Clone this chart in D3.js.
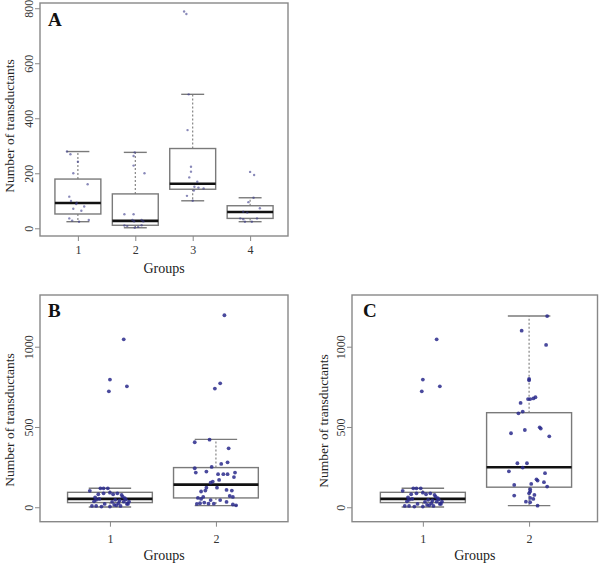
<!DOCTYPE html>
<html><head><meta charset="utf-8">
<script src="https://cdn.jsdelivr.net/npm/d3@7"></script>
<style>body{margin:0;background:#fff}svg{display:block}
text{font-family:"Liberation Serif","Times New Roman",Times,serif}</style>
</head><body>
<script>
// ---------- DATA ----------
const groupsA = [1, 2, 3, 4];
const groupsBC = [1, 2];
const ticksA = [0, 200, 400, 600, 800];
const ticksBC = [0, 500, 1000];

// Panel A box statistics (lower whisker, Q1, median, Q3, upper whisker)
const boxA_low = [24, 2, 100, 24];
const boxA_q1 = [52, 11, 142, 36];
const boxA_med = [92, 27, 162, 59];
const boxA_q3 = [179, 125, 290, 82];
const boxA_high = [279, 276, 487, 111];

// Panel A points: jittered group position and value
const ptsA_x = [0.81,0.87,1.00,0.92,1.17,0.85,0.88,0.98,0.97,1.11,0.92,1.06,0.85,0.90,1.19,1.02,
  1.99,1.97,1.97,2.16,1.81,1.97,1.81,1.86,1.99,2.05,2.11,1.95,2.11,2.14,1.98,
  2.85,2.89,2.93,2.91,2.97,2.97,2.94,3.08,3.03,3.10,3.19,3.02,2.90,3.00,
  4.00,4.07,4.06,3.97,4.17,3.88,3.95,3.83,3.88,4.12,3.91,4.03];
const ptsA_y = [279,269,242,200,160,115,99,93,88,79,71,64,36,28,30,24,
  276,263,228,200,51,51,10,8,2,5,11,30,30,25,25,
  788,779,487,357,224,206,185,169,151,148,145,137,118,100,
  205,194,111,95,73,60,57,36,33,36,24,24];

// Group 1 (shared by panels B and C)
const g1_x = [1.13,1.00,0.99,1.16,
  0.81,0.91,0.94,0.98,0.89,0.86,0.87,0.85,0.94,1.00,1.03,1.07,1.11,1.12,1.14,1.05,1.02,1.08,1.16,1.13,1.18,
  1.04,1.10,1.17,0.87,0.83,0.92,1.00,1.06,0.95,0.90,1.15,1.09];
const g1_y = [1046,795,722,753,
  102,118,118,118,81,62,46,37,87,91,81,87,77,66,56,46,33,25,21,35,35,
  15,8,21,8,8,4,4,12,21,52,48,42];

// Panel B box statistics
const boxB_low = [2, 10];
const boxB_q1 = [29, 58];
const boxB_med = [52, 141];
const boxB_q3 = [93, 247];
const boxB_high = [118, 423];

// Panel B group 2 points
const b2_x = [2.08,2.04,1.99,
  1.80,1.94,2.12,2.11,2.05,1.96,1.80,1.91,1.81,2.18,2.02,2.07,2.11,2.17,2.03,1.97,1.95,1.91,2.01,1.86,1.90,2.10,2.15,
  1.88,1.83,1.86,1.95,2.04,2.13,2.16,1.89,1.93,1.98,2.10,1.82,1.85,2.16,2.19];
const b2_y = [1196,772,739,
  405,421,367,280,270,251,243,222,216,216,206,206,206,188,170,160,153,122,122,98,104,108,104,
  64,58,52,45,45,70,64,29,22,22,33,21,25,17,12];

// Panel C box statistics
const boxC_low = [2, 10];
const boxC_q1 = [29, 125];
const boxC_med = [52, 249];
const boxC_q3 = [93, 589];
const boxC_high = [118, 1191];

// Panel C group 2 points
const c2_x = [2.17,1.93,2.16,2.00,2.00,1.99,2.01,2.04,2.06,1.92,1.94,1.90,2.10,2.11,1.96,1.83,2.19,
  1.89,1.98,1.94,1.81,2.15,2.07,2.08,1.86,2.02,2.14,2.17,2.01,2.01,2.00,2.05,1.86,2.04,2.01,1.97,2.01,2.08];
const c2_y = [1191,1100,1011,799,791,674,674,678,685,650,596,585,498,490,481,461,442,
  274,274,247,224,212,174,166,139,145,156,129,112,98,87,77,73,52,58,35,31,10];

// ---------- DRAWING ----------
const svg = d3.select("body").append("svg").attr("width", 600).attr("height", 563);

function panel(o) {
  const x = d3.scaleLinear().domain(o.xDom).range([o.left, o.right]);
  const y = d3.scaleLinear().domain(o.yDom).range([o.bottom, o.top]);
  const g = svg.append("g");
  const bw = 0.4, cw = 0.2;
  const boxCol = "#7a7a7a";

  o.groups.forEach((gr, i) => {
    g.append("line").attr("x1", x(gr)).attr("x2", x(gr)).attr("y1", y(o.q3[i])).attr("y2", y(o.high[i]))
      .attr("stroke", boxCol).attr("stroke-width", 1.1).attr("stroke-dasharray", "2,2");
    g.append("line").attr("x1", x(gr)).attr("x2", x(gr)).attr("y1", y(o.q1[i])).attr("y2", y(o.low[i]))
      .attr("stroke", boxCol).attr("stroke-width", 1.1).attr("stroke-dasharray", "2,2");
    [o.high[i], o.low[i]].forEach(v => {
      g.append("line").attr("x1", x(gr - cw)).attr("x2", x(gr + cw)).attr("y1", y(v)).attr("y2", y(v))
        .attr("stroke", boxCol).attr("stroke-width", 1.4);
    });
    g.append("rect").attr("x", x(gr - bw)).attr("width", x(gr + bw) - x(gr - bw))
      .attr("y", y(o.q3[i])).attr("height", y(o.q1[i]) - y(o.q3[i]))
      .attr("fill", "none").attr("stroke", boxCol).attr("stroke-width", 1.4);
    g.append("line").attr("x1", x(gr - bw)).attr("x2", x(gr + bw)).attr("y1", y(o.med[i])).attr("y2", y(o.med[i]))
      .attr("stroke", "#111").attr("stroke-width", 2.6);
  });

  o.pts.forEach(p => {
    g.selectAll(null).data(d3.zip(p.x, p.y)).join("circle")
      .attr("cx", d => x(d[0])).attr("cy", d => y(d[1])).attr("r", o.r)
      .attr("fill", o.ptCol).attr("fill-opacity", o.ptOp);
  });

  g.append("rect").attr("x", o.left).attr("y", o.top).attr("width", o.right - o.left).attr("height", o.bottom - o.top)
    .attr("fill", "none").attr("stroke", "#888").attr("stroke-width", 1.4);

  const ya = g.append("g").attr("transform", `translate(${o.left},0)`)
    .call(d3.axisLeft(y).tickValues(o.yTicks).tickSize(5).tickFormat(d3.format("d")));
  ya.attr("font-family", null).attr("font-size", null);
  ya.select(".domain").remove();
  ya.selectAll(".tick line").attr("stroke", "#888");
  ya.selectAll(".tick text").attr("x", null).attr("dy", null)
    .attr("transform", `translate(${o.yTickX - o.left},0) rotate(-90)`)
    .attr("text-anchor", "middle").attr("font-size", 12).attr("fill", "#333");

  const xa = g.append("g").attr("transform", `translate(0,${o.bottom})`)
    .call(d3.axisBottom(x).tickValues(o.groups).tickSize(5).tickFormat(d3.format("d")));
  xa.attr("font-family", null).attr("font-size", null);
  xa.select(".domain").remove();
  xa.selectAll(".tick line").attr("stroke", "#888");
  xa.selectAll(".tick text").attr("y", o.xTickY - o.bottom).attr("dy", null)
    .attr("font-size", 12).attr("fill", "#333");

  svg.append("text").attr("x", (o.left + o.right) / 2).attr("y", o.xTitleY).attr("text-anchor", "middle")
    .attr("font-size", 14).attr("fill", "#222").text("Groups");
  svg.append("text").attr("transform", `translate(${o.yTitleX},${o.yTitleC}) rotate(-90)`).attr("text-anchor", "middle")
    .attr("font-size", 13.5).attr("fill", "#222").text("Number of transductants");
  svg.append("text").attr("x", o.letterX).attr("y", o.letterY)
    .attr("font-weight", "bold").attr("font-size", 19).attr("fill", "#111").text(o.letter);
}

panel({
  left: 40, right: 288, top: 3, bottom: 236, xDom: [0.34, 4.66], yDom: [-28, 819],
  groups: groupsA, yTicks: ticksA,
  low: boxA_low, q1: boxA_q1, med: boxA_med, q3: boxA_q3, high: boxA_high,
  pts: [{x: ptsA_x, y: ptsA_y}], r: 1.2, ptCol: "#3b3b8a", ptOp: 0.6,
  yTickX: 33, xTickY: 254, xTitleY: 272.5, yTitleX: 14, yTitleC: 126,
  letter: "A", letterX: 48, letterY: 26
});
panel({
  left: 40, right: 288, top: 295, bottom: 521.7, xDom: [0.34, 2.68], yDom: [-90, 1322],
  groups: groupsBC, yTicks: ticksBC,
  low: boxB_low, q1: boxB_q1, med: boxB_med, q3: boxB_q3, high: boxB_high,
  pts: [{x: g1_x, y: g1_y}, {x: b2_x, y: b2_y}], r: 1.9, ptCol: "#2a2a8c", ptOp: 0.85,
  yTickX: 32.5, xTickY: 543.5, xTitleY: 560, yTitleX: 13.5, yTitleC: 420,
  letter: "B", letterX: 48, letterY: 317
});
panel({
  left: 352, right: 597.5, top: 295, bottom: 521.7, xDom: [0.333, 2.644], yDom: [-90, 1322],
  groups: groupsBC, yTicks: ticksBC,
  low: boxC_low, q1: boxC_q1, med: boxC_med, q3: boxC_q3, high: boxC_high,
  pts: [{x: g1_x, y: g1_y}, {x: c2_x, y: c2_y}], r: 1.9, ptCol: "#2a2a8c", ptOp: 0.85,
  yTickX: 345, xTickY: 543.5, xTitleY: 560, yTitleX: 328, yTitleC: 421,
  letter: "C", letterX: 363, letterY: 317
});
</script>
</body></html>
